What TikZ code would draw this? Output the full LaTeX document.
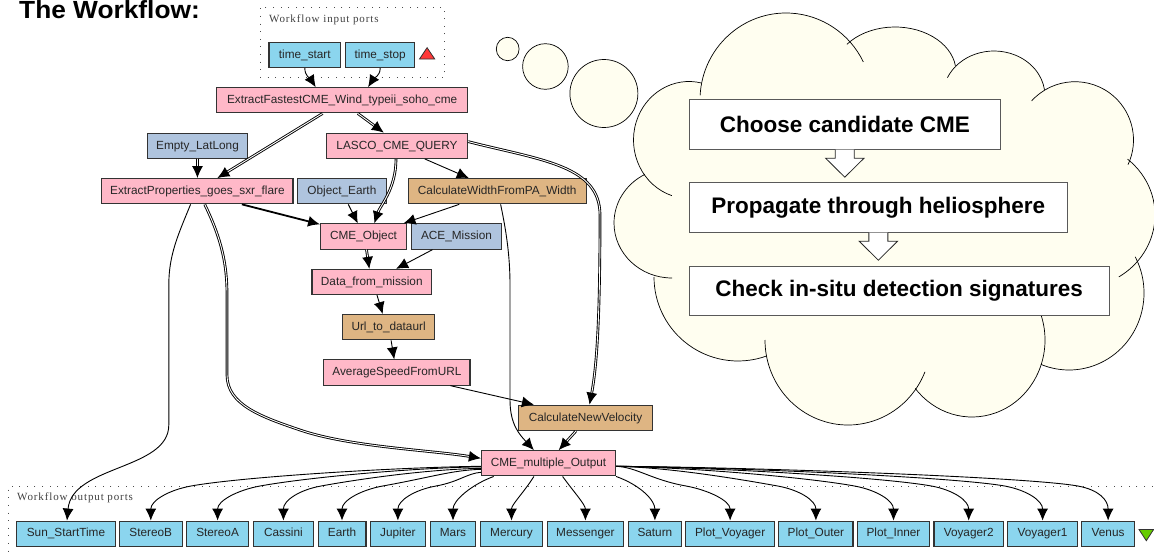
\documentclass[tikz,border=0pt]{standalone}
\usepackage{fontspec}
\setmainfont{Liberation Sans}
\newfontfamily\frameFont[LetterSpace=8]{Liberation Serif}
\usetikzlibrary{arrows.meta}

\definecolor{portBlue}{HTML}{8BD5EE}
\definecolor{workerPink}{HTML}{FFB8C8}
\definecolor{constBlue}{HTML}{AFC4DE}
\definecolor{beanTan}{HTML}{DEB583}
\definecolor{cloudCream}{HTML}{FFFEF0}
\definecolor{inputRed}{HTML}{FF3838}
\definecolor{outputGreen}{HTML}{66CC00}

\newcommand\stepText[1]{\raisebox{-3.5pt}{#1}}

\tikzset{
	flowBox/.style = {draw = black!80, line width = 1.1pt, inner sep = 0pt, minimum height = 25.2pt, text height = 8.5pt, text depth = 2.1pt, text = black!85, font = \fontsize{11.8}{12}\selectfont},
	portBox/.style = {flowBox, fill = portBlue},
	workerBox/.style = {flowBox, fill = workerPink},
	constBox/.style = {flowBox, fill = constBlue},
	beanBox/.style = {flowBox, fill = beanTan},
	frameBox/.style = {draw = black!70, line width = 1pt, dash pattern = on 1pt off 6.6pt, anchor = north west, inner sep = 0pt},
	frameText/.style = {anchor = west, inner sep = 0pt, text = black!75, font = \frameFont\fontsize{11}{12}\selectfont},
	stepBox/.style = {draw = black!65, line width = 1pt, fill = white, inner sep = 0pt, font = \bfseries\fontsize{22.5}{24}\selectfont},
	twin/.style = {double, double distance = 0.9pt, line width = 0.9pt},
	single/.style = {line width = 0.9pt},
	heavy/.style = {line width = 1.8pt},
	lobe/.style = {draw = black, line width = 0.7pt}
}

\begin{document}
\begin{tikzpicture}[x = 1pt, y = -1pt, > = {Latex[length = 12pt, width = 11pt]}]

	% Definitions

	\def\portY{533.7}
	\def\midY{486}
	\def\lobeList{
		786/100/86/87/183/334, 895/72/61/45/218/352, 994/96/51/45/204/352,
		1075/140/58.5/58.3/222/385, 1078/215/77/73/310/418, 1069/293/75/77/-28/112,
		972/340/73/77/-19/141, 848/340/83/85/22/180, 738/277/84/84/70/180,
		672/223/58/55/90/242, 689/140/55.5/58.5/108/283}

	\useasboundingbox (0, 0) rectangle (1154, 554);

	% Title

	\node [anchor = base west, inner sep = 0pt, font = \bfseries\fontsize{24.8}{26}\selectfont\addfontfeature{FakeStretch = 1.06}] (title) at (19, 19) {The Workflow:};

	% Dotted frames

	\node [frameBox, minimum width = 184.5pt, minimum height = 70.6pt] (inputFrame) at (259.5, 6.7) {};
	\node [frameBox, minimum width = 1200pt, minimum height = 120pt] (outputFrame) at (7.7, 486) {};
	\node [frameText] (inputText) at (269, 19.3) {Workflow input ports};
	\node [frameText] (outputText) at (17, 498) {Workflow output ports};

	% Input ports

	\node [portBox, minimum width = 71.6pt] (timeStart) at (304.8, 55) {time\_start};
	\node [portBox, minimum width = 69.2pt] (timeStop) at (380.2, 55) {time\_stop};
	\draw [draw = black!80, fill = inputRed, line width = 0.8pt] (419.5, 59) -- (427.1, 47.7) -- (434.7, 59) -- cycle;

	% Workers

	\node [workerBox, minimum width = 251pt] (fastestCME) at (342.1, 100.3) {ExtractFastestCME\_Wind\_typeii\_soho\_cme};
	\node [constBox, minimum width = 100.3pt] (emptyLatLong) at (197.5, 145.8) {Empty\_LatLong};
	\node [workerBox, minimum width = 141.2pt] (lascoQuery) at (397, 145.8) {LASCO\_CME\_QUERY};
	\node [workerBox, minimum width = 191.2pt] (sxrFlare) at (197.4, 191.2) {ExtractProperties\_goes\_sxr\_flare};
	\node [constBox, minimum width = 88.3pt] (objectEarth) at (341.9, 191.2) {Object\_Earth};
	\node [beanBox, minimum width = 178.3pt] (calcWidth) at (497.2, 191.2) {CalculateWidthFromPA\_Width};
	\node [workerBox, minimum width = 85.7pt] (cmeObject) at (363.5, 236.5) {CME\_Object};
	\node [constBox, minimum width = 90.3pt] (aceMission) at (456.5, 236.5) {ACE\_Mission};
	\node [workerBox, minimum width = 119.7pt] (dataMission) at (371.8, 282) {Data\_from\_mission};
	\node [beanBox, minimum width = 91.5pt] (urlData) at (388.6, 327.2) {Url\_to\_dataurl};
	\node [workerBox, minimum width = 146.2pt] (avgSpeed) at (396.9, 372.5) {AverageSpeedFromURL};
	\node [beanBox, minimum width = 133.9pt] (calcVelocity) at (585.5, 417.8) {CalculateNewVelocity};
	\node [workerBox, minimum width = 134.1pt] (cmeOutput) at (548.5, 463.3) {CME\_multiple\_Output};

	% Output ports

	\foreach \portName/\portText/\portX/\portW in {
		sunTime/Sun\_StartTime/66/98.4, stereoB/StereoB/150.8/62.8, stereoA/StereoA/217.6/62.4,
		cassini/Cassini/283.4/60.1, earth/Earth/342/47.9, jupiter/Jupiter/397.9/54.7,
		mars/Mars/453/45.5, mercury/Mercury/511.5/62.4, messenger/Messenger/585.4/76.3,
		saturn/Saturn/654.9/53.1, plotVoyager/Plot\_Voyager/730.1/88.6, plotOuter/Plot\_Outer/815.9/74.2,
		plotInner/Plot\_Inner/893.5/72.1, voyagerTwo/Voyager2/968.7/69.5, voyagerOne/Voyager1/1042.6/69.5,
		venus/Venus/1108.1/52.7}
		\node [portBox, minimum width = \portW pt] (\portName) at (\portX, \portY) {\portText};
	\draw [draw = black!80, fill = outputGreen, line width = 0.8pt] (1139, 529.5) -- (1153.6, 529.5) -- (1146.3, 540.7) -- cycle;

	% Edges at the top

	\draw [->, single] (timeStart.south) .. controls +(0, 8) and +(-5, -8) .. ([xshift = -26.4]fastestCME.north);
	\draw [->, single] (timeStop.south) .. controls +(0, 8) and +(5, -8) .. ([xshift = 26]fastestCME.north);
	\draw [->, twin] ([xshift = -19.5]fastestCME.south) -- ([xshift = 20]sxrFlare.north);
	\draw [->, twin] ([xshift = 15.7]fastestCME.south) -- ([xshift = -13.2]lascoQuery.north);
	\draw [->, twin] (emptyLatLong.south) -- (sxrFlare.north);
	\draw [->, twin] ([xshift = -1]lascoQuery.south) .. controls +(0, 30) and +(6, -18) .. ([xshift = 10.8]cmeObject.north);
	\draw [->, single] ([xshift = 27.8]lascoQuery.south) -- ([xshift = -28.4]calcWidth.north);

	% Edges into CME_Object and down the middle

	\draw [->, heavy] ([xshift = 44.5]sxrFlare.south) -- ([yshift = -1]cmeObject.north west);
	\draw [->, single] ([xshift = 6.4]objectEarth.south) -- ([xshift = -5.7]cmeObject.north);
	\draw [->, single] ([xshift = -38]calcWidth.south) -- ([xshift = 40]cmeObject.north);
	\draw [->, twin] ([xshift = 3]cmeObject.south) -- ([xshift = -2.5]dataMission.north);
	\draw [->, single] ([xshift = -24]aceMission.south) -- ([xshift = 24.3]dataMission.north);
	\draw [->, single] ([xshift = 5.2]dataMission.south) -- ([xshift = -5.9]urlData.north);
	\draw [->, single] ([xshift = 2.5]urlData.south) -- ([xshift = -2.7]avgSpeed.north);
	\draw [->, single] ([xshift = 53.5]avgSpeed.south) -- ([xshift = -51.6]calcVelocity.north);
	\draw [->, twin] ([xshift = -9.5]calcVelocity.south) -- ([xshift = 10.2]cmeOutput.north);

	% Long edges

	\draw [->, twin] ([yshift = 4.2]lascoQuery.east) .. controls (540, 160) and (600, 165) .. (600, 215) .. controls (600, 300) and (598, 360) .. ([xshift = 4]calcVelocity.north);
	\draw [->, single] ([xshift = -6.8]sxrFlare.south) .. controls (178, 235) and (168.8, 255) .. (168.8, 285) -- (168.8, 425) .. controls (168.8, 470) and (72, 465) .. ([xshift = 1]sunTime.north);
	\draw [->, twin] ([xshift = 7.3]sxrFlare.south) .. controls (222, 240) and (227, 265) .. (227, 295) -- (227, 375) .. controls (227, 405) and (262, 417) .. (300, 430) .. controls (350, 447) and (430, 450) .. ([yshift = 5]cmeOutput.west);
	\draw [->, single] ([xshift = 3.4]calcWidth.south) .. controls (506, 230) and (510, 255) .. (510, 285) -- (510, 400) .. controls (510, 425) and (520, 435) .. ([xshift = -14.6]cmeOutput.north);

	% Fan out to the output ports

	\foreach \portName/\midX/\startY in {stereoB/191/-3, stereoA/260/-3.5, cassini/321/-5, earth/382.7/-6, jupiter/436/-9}
		\draw [->, single] ([yshift = \startY]cmeOutput.west) .. controls +({-0.3 * (481.4 - \midX)}, 1) and ({\midX + min(50, 0.5 * (481.4 - \midX))}, {\midY - 0.18 * min(50, 0.5 * (481.4 - \midX))}) .. (\midX, \midY) .. controls +(-22, 4) and +(0, -20) .. (\portName.north);
	\foreach \portName/\midX in {plotVoyager/686, plotOuter/777.7, plotInner/854.5, voyagerTwo/931.4, voyagerOne/1004.6, venus/1077.8}
		\draw [->, single] ([yshift = -3]cmeOutput.east) .. controls +({0.3 * (\midX - 615.5)}, 1) and ({\midX - min(50, 0.5 * (\midX - 615.5))}, {\midY - 0.18 * min(50, 0.5 * (\midX - 615.5))}) .. (\midX, \midY) .. controls +(22, 4) and +(0, -20) .. (\portName.north);
	\draw [->, single] ([xshift = -54.8]cmeOutput.south) .. controls +(-22, 8) and +(0, -20) .. (mars.north);
	\draw [->, single] ([xshift = -14.6]cmeOutput.south) .. controls +(-10, 16) and +(0, -16) .. (mercury.north);
	\draw [->, single] ([xshift = 14.1]cmeOutput.south) .. controls +(10, 14) and +(0, -16) .. (messenger.north);
	\draw [->, single] (cmeOutput.south east) .. controls +(25, 9) and +(0, -20) .. (saturn.north);

	% Thought cloud

	\fill [cloudCream] (690, 90) rectangle (1110, 340);
	\foreach \cx/\cy/\rx/\ry/\startA/\endA in \lobeList
		\fill [cloudCream] (\cx, \cy) ellipse [x radius = \rx, y radius = \ry];
	\foreach \cx/\cy/\rx/\ry/\startA/\endA in \lobeList
		\draw [lobe] (\cx, \cy) ++({\startA}:{\rx} and {\ry}) arc [start angle = \startA, end angle = \endA, x radius = \rx, y radius = \ry];

	% Bubbles

	\draw [lobe, fill = cloudCream] (507.7, 49) ellipse [x radius = 11.4, y radius = 11.7];
	\draw [lobe, fill = cloudCream] (545.4, 66.5) ellipse [x radius = 22.8, y radius = 22.8];
	\draw [lobe, fill = cloudCream] (603.9, 93.5) ellipse [x radius = 34, y radius = 34];

	% Steps inside the cloud

	\node [stepBox, minimum width = 310.8pt, minimum height = 50.4pt] (chooseStep) at (844.8, 124.5) {\stepText{Choose candidate CME}};
	\node [stepBox, minimum width = 377.9pt, minimum height = 50pt] (propagateStep) at (878.35, 207.7) {\stepText{Propagate through heliosphere}};
	\node [stepBox, minimum width = 419.6pt, minimum height = 49pt] (checkStep) at (899.2, 290.5) {\stepText{Check in-situ detection signatures}};

	% Hollow arrows between the steps

	\foreach \stepA in {chooseStep, propagateStep}
		\draw [draw = black!85, line width = 0.8pt, fill = white] ([xshift = -9.5, yshift = 0.7]\stepA.south) -- ++(0, 8.7) -- ++(-9.7, 0) -- ++(19.2, 19) -- ++(19.2, -19) -- ++(-9.7, 0) -- ++(0, -8.7);

\end{tikzpicture}
\end{document}
